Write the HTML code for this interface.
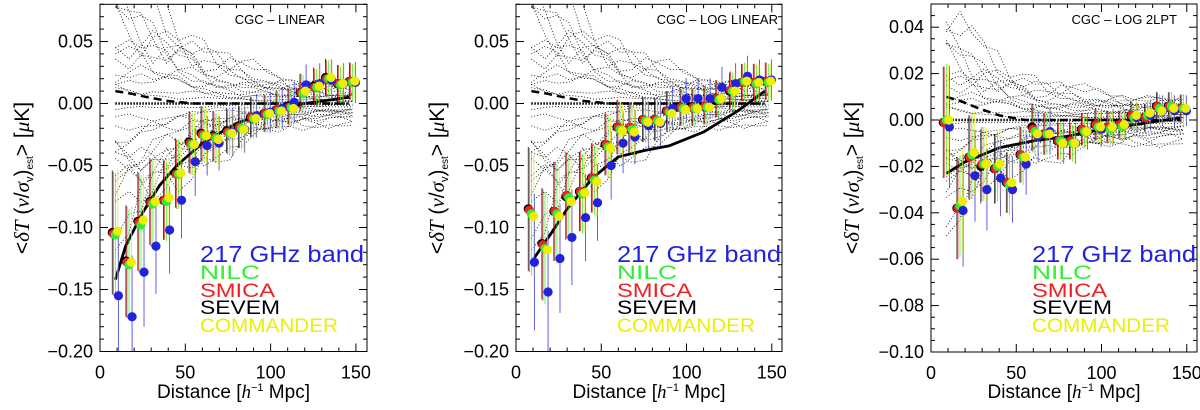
<!DOCTYPE html>
<html><head><meta charset="utf-8">
<style>
html,body{margin:0;padding:0;background:#fff;}
svg{display:block;font-family:"Liberation Sans",sans-serif;}
</style></head>
<body>
<svg id="chart" width="1200" height="410" viewBox="0 0 1200 410" xmlns="http://www.w3.org/2000/svg"></svg>
<script>
// ---- data ----
const binsX = [9,17,24,31,39,46,54,61,68,76,83,90,98,105,112,119,127,134,141,148];
// Panel 1: CGC - LINEAR
const p1Sevem = [-0.104,-0.127,-0.095,-0.079,-0.078,-0.056,-0.031,-0.024,-0.026,-0.022,-0.019,-0.011,-0.008,-0.005,-0.002,0.009,0.014,0.021,0.016,0.018];
const p1Smica = [-0.105,-0.128,-0.096,-0.080,-0.078,-0.057,-0.032,-0.025,-0.027,-0.023,-0.019,-0.011,-0.008,-0.005,-0.003,0.009,0.013,0.020,0.016,0.018];
const p1Nilc  = [-0.106,-0.130,-0.098,-0.081,-0.079,-0.057,-0.033,-0.026,-0.028,-0.024,-0.020,-0.012,-0.009,-0.006,-0.003,0.008,0.013,0.020,0.015,0.017];
const p1Comm  = [-0.103,-0.128,-0.094,-0.079,-0.076,-0.056,-0.033,-0.026,-0.029,-0.024,-0.021,-0.012,-0.008,-0.006,-0.004,0.010,0.014,0.021,0.016,0.018];
const p1Band  = [-0.155,-0.172,-0.136,-0.115,-0.102,-0.078,-0.047,-0.034,-0.032,-0.023,-0.021,-0.010,-0.007,-0.004,0.001,0.015,0.016,0.019,0.016,0.017];
const p1Err   = [0.05,0.045,0.04,0.035,0.032,0.028,0.025,0.022,0.02,0.018,0.017,0.016,0.015,0.015,0.015,0.015,0.015,0.015,0.015,0.015];
const p1TheoryX = [9,15,25,35,45,60,80,100,120,146];
const p1TheoryY = [-0.142,-0.115,-0.088,-0.066,-0.050,-0.032,-0.016,-0.006,0.000,0.005];
const p1Sigma = [0.09,0.085,0.08,0.072,0.065,0.058,0.05,0.043,0.037,0.032,0.028,0.025,0.022,0.02,0.018,0.017,0.016,0.015,0.014,0.014];
// Panel 2: CGC - LOG LINEAR
const p2Sevem = [-0.085,-0.113,-0.087,-0.075,-0.071,-0.060,-0.033,-0.019,-0.020,-0.013,-0.013,-0.006,-0.003,-0.003,-0.002,0.004,0.010,0.017,0.017,0.018];
const p2Smica = [-0.086,-0.114,-0.087,-0.074,-0.071,-0.060,-0.033,-0.019,-0.019,-0.013,-0.013,-0.006,-0.003,-0.003,-0.002,0.004,0.011,0.017,0.017,0.018];
const p2Nilc  = [-0.089,-0.117,-0.089,-0.076,-0.073,-0.062,-0.035,-0.021,-0.021,-0.014,-0.014,-0.007,-0.004,-0.004,-0.003,0.003,0.010,0.018,0.016,0.017];
const p2Comm  = [-0.091,-0.118,-0.091,-0.079,-0.072,-0.063,-0.036,-0.022,-0.023,-0.015,-0.015,-0.008,-0.005,-0.004,-0.003,0.004,0.010,0.018,0.017,0.018];
const p2Band  = [-0.128,-0.152,-0.125,-0.108,-0.092,-0.080,-0.050,-0.032,-0.027,-0.018,-0.016,-0.004,0.004,0.004,0.004,0.013,0.016,0.022,0.019,0.019];
const p2Err   = [0.05,0.045,0.04,0.035,0.032,0.028,0.025,0.022,0.02,0.018,0.017,0.016,0.015,0.015,0.015,0.015,0.015,0.015,0.015,0.015];
const p2TheoryX = [9,20,30,45,60,75,90,110,130,146];
const p2TheoryY = [-0.128,-0.106,-0.085,-0.060,-0.043,-0.038,-0.034,-0.023,-0.006,0.010];
const p2Sigma = [0.09,0.085,0.08,0.072,0.065,0.058,0.05,0.043,0.037,0.032,0.028,0.025,0.022,0.02,0.018,0.017,0.016,0.015,0.014,0.014];
// Panel 3: CGC - LOG 2LPT
const p3Sevem = [-0.001,-0.038,-0.016,-0.020,-0.021,-0.027,-0.015,-0.003,-0.006,-0.009,-0.009,-0.004,-0.002,-0.003,-0.002,0.002,0.001,0.006,0.006,0.005];
const p3Smica = [-0.001,-0.038,-0.016,-0.019,-0.021,-0.027,-0.015,-0.004,-0.006,-0.009,-0.009,-0.004,-0.002,-0.003,-0.002,0.002,0.001,0.006,0.006,0.005];
const p3Nilc  = [0.000,-0.037,-0.015,-0.019,-0.020,-0.028,-0.016,-0.005,-0.006,-0.009,-0.010,-0.005,-0.003,-0.004,-0.003,0.001,0.002,0.005,0.006,0.005];
const p3Comm  = [0.000,-0.035,-0.014,-0.019,-0.019,-0.027,-0.016,-0.006,-0.006,-0.010,-0.010,-0.005,-0.003,-0.003,-0.002,0.002,0.003,0.004,0.005,0.005];
const p3Band  = [-0.003,-0.039,-0.024,-0.030,-0.025,-0.030,-0.019,-0.007,-0.005,-0.010,-0.010,-0.005,-0.004,-0.003,-0.002,0.001,0.002,0.004,0.004,0.004];
const p3Err   = [0.024,0.022,0.018,0.016,0.015,0.013,0.012,0.01,0.009,0.008,0.008,0.007,0.007,0.007,0.006,0.006,0.006,0.006,0.006,0.006];
const p3TheoryX = [9,20,40,60,80,100,120,146];
const p3TheoryY = [-0.023,-0.018,-0.012,-0.009,-0.007,-0.004,-0.002,0.001];
const p3Sigma = [0.038,0.035,0.031,0.027,0.024,0.021,0.018,0.016,0.014,0.013,0.012,0.011,0.011,0.01,0.01,0.009,0.009,0.009,0.008,0.008];
const simMult = [1.0,-0.95,0.85,-0.8,0.7,-0.65,0.55,-0.5,0.4,-0.35,0.25,-0.2,0.1,-0.05,0.6,-0.75,0.9,-0.9,0.3,-0.45,0.8,-0.6,0.5,-0.3,0.15,-0.15,0.95,-1.0,0.35,-0.55];
const dashY = [0.010,0.008,0.005,0.002,0.0,0.0,0.0,0.0];
const dashX = [9,18,28,40,55,80,110,146];

const SVGNS="http://www.w3.org/2000/svg";
const svg=document.getElementById('chart');
function mk(tag,attrs,parent){const e=document.createElementNS(SVGNS,tag);for(const k in attrs)e.setAttribute(k,attrs[k]);(parent||svg).appendChild(e);return e;}

const panels=[
 {name:'linear',title:'CGC – LINEAR',titleX:325,x0:100,x1:367,xmax:156.5,y0v:103.5,yscale:1240,ymin:-0.2,ymax:0.08,ticks:[-0.2,-0.15,-0.1,-0.05,0,0.05],minor:0.01,dec:2,
  sev:p1Sevem,smi:p1Smica,nil:p1Nilc,com:p1Comm,band:p1Band,err:p1Err,tx:p1TheoryX,ty:p1TheoryY,sig:p1Sigma,ytitleX:22,legX:200},
 {name:'log-linear',title:'CGC – LOG LINEAR',titleX:778,x0:516,x1:782,xmax:156,y0v:103.5,yscale:1240,ymin:-0.2,ymax:0.08,ticks:[-0.2,-0.15,-0.1,-0.05,0,0.05],minor:0.01,dec:2,
  sev:p2Sevem,smi:p2Smica,nil:p2Nilc,com:p2Comm,band:p2Band,err:p2Err,tx:p2TheoryX,ty:p2TheoryY,sig:p2Sigma,ytitleX:437,legX:617},
 {name:'log-2lpt',title:'CGC – LOG 2LPT',titleX:1177,x0:931,x1:1197,xmax:156,y0v:120,yscale:2320,ymin:-0.1,ymax:0.05,ticks:[-0.1,-0.08,-0.06,-0.04,-0.02,0,0.02,0.04],minor:0.005,dec:2,
  sev:p3Sevem,smi:p3Smica,nil:p3Nilc,com:p3Comm,band:p3Band,err:p3Err,tx:p3TheoryX,ty:p3TheoryY,sig:p3Sigma,ytitleX:852,legX:1032}
];
const COL={blue:'#2222dd',green:'#33ee33',red:'#ee2222',black:'#000',yellow:'#eeee00'};

panels.forEach(p=>{
 const g=mk('g',{});
 
 
 const X=v=>p.x0+(v/p.xmax)*(p.x1-p.x0);
 const Y=v=>p.y0v-v*p.yscale;
 const top=Y(p.ymax), bot=Y(p.ymin);
 const clipId='clip-'+p.name;
 const cp=mk('clipPath',{id:clipId},g); mk('rect',{x:p.x0,y:top,width:p.x1-p.x0,height:bot-top},cp);
 const plot=mk('g',{'clip-path':'url(#'+clipId+')'},g);
 // simulations
 simMult.forEach((m,k)=>{
  let d='';
  binsX.forEach((bx,i)=>{const w=1+0.3*Math.sin(i*0.7+k*1.7)+0.15*Math.sin(i*1.9+k*0.6);d+=(i?'L':'M')+X(bx).toFixed(1)+','+Y(p.sig[i]*m*w).toFixed(1);});
  const s=mk('path',{d:d,fill:'none',stroke:'#000','stroke-width':0.8,'stroke-dasharray':'1,2'},plot);
  
  
 });
 // zero dotted + dashed thick
 const z=mk('line',{x1:X(9),x2:X(146),y1:Y(0),y2:Y(0),stroke:'#000','stroke-width':2.5,'stroke-dasharray':'1.5,1.5'},plot);
 
 
 let dd='';dashX.forEach((x,i)=>{dd+=(i?'L':'M')+X(x)+','+Y(dashY[i]);});
 const dl=mk('path',{d:dd,fill:'none',stroke:'#000','stroke-width':2.5,'stroke-dasharray':'8,5'},plot);
 
 
 // theory
 let td='';p.tx.forEach((x,i)=>{td+=(i?'L':'M')+X(x).toFixed(1)+','+Y(p.ty[i]).toFixed(1);});
 const th=mk('path',{d:td,fill:'none',stroke:'#000','stroke-width':2.8,'stroke-linejoin':'round'},plot);
 
 
 // series
 const series=[
  {vals:p.sev,c:COL.black,dx:-1.8,n:'sevem'},
  {vals:p.smi,c:COL.red,dx:-1.2,n:'smica'},
  {vals:p.nil,c:COL.green,dx:0,n:'nilc'},
  {vals:p.band,c:COL.blue,dx:1.8,n:'217ghz'},
  {vals:p.com,c:COL.yellow,dx:1.4,n:'commander'}];
 series.forEach(s=>{binsX.forEach((bx,i)=>{
  const e=p.err[i]*(s.n==='217ghz'?1.1:1);
  const l=mk('line',{x1:X(bx+s.dx),x2:X(bx+s.dx),y1:Y(s.vals[i]-e),y2:Y(s.vals[i]+e),stroke:s.c,'stroke-width':0.9,'stroke-opacity':0.8},plot);
  
  
 });});
 series.forEach(s=>{binsX.forEach((bx,i)=>{
  const c=mk('circle',{cx:X(bx+s.dx),cy:Y(s.vals[i]),r:4.6,fill:s.c},plot);
  
  
 });});
 // frame
 const fr=mk('rect',{x:p.x0,y:top,width:p.x1-p.x0,height:bot-top,fill:'none',stroke:'#000','stroke-width':1},g);
 
 
 // x ticks
 for(let v=0;v<=p.xmax;v+=10){
  const maj=v%50===0, L=maj?8:4;
  mk('line',{x1:X(v),x2:X(v),y1:bot,y2:bot-L,stroke:'#000'},g);
  mk('line',{x1:X(v),x2:X(v),y1:top,y2:top+L,stroke:'#000'},g);
  if(maj){const t=mk('text',{x:X(v),y:bot+27,'font-size':18,'text-anchor':'middle'},g);t.textContent=v;
   }
 }
 // y ticks
 const nmin=Math.round(p.ymin/p.minor), nmax=Math.floor(p.ymax/p.minor+1e-6);
 for(let n=nmin;n<=nmax;n++){
  const v=n*p.minor; const maj=p.ticks.some(t=>Math.abs(t-v)<1e-9); const L=maj?8:4;
  mk('line',{x1:p.x0,x2:p.x0+L,y1:Y(v),y2:Y(v),stroke:'#000'},g);
  mk('line',{x1:p.x1,x2:p.x1-L,y1:Y(v),y2:Y(v),stroke:'#000'},g);
 }
 p.ticks.forEach(v=>{
  const t=mk('text',{x:p.x0-7,y:Y(v)+6,'font-size':18,'text-anchor':'end'},g);
  t.textContent=(v<0?'−':'')+Math.abs(v).toFixed(p.dec);
  
 });
 // titles
 const tt=mk('text',{x:p.titleX,y:24,'font-size':13,'text-anchor':'end'},g);tt.textContent=p.title;
 
 const xt=mk('text',{x:(p.x0+p.x1)/2,y:398,'font-size':19,'text-anchor':'middle'},g);
 xt.innerHTML='Distance [<tspan font-style="italic" font-family="Liberation Serif">h</tspan><tspan dy="-7" font-size="11">−1</tspan><tspan dy="7"> Mpc]</tspan>';
 
 const yt=mk('text',{x:0,y:0,'font-size':21,'text-anchor':'middle',transform:'translate('+(p.ytitleX+7)+',178) rotate(-90)'},g);
 yt.innerHTML='&lt;<tspan font-style="italic" font-family="Liberation Serif">δT</tspan> (<tspan font-style="italic" font-family="Liberation Serif">v</tspan>/<tspan font-style="italic" font-family="Liberation Serif">σ</tspan><tspan dy="4" font-size="11">v</tspan><tspan dy="-4">)</tspan><tspan dy="4" font-size="10">est</tspan><tspan dy="-4">&gt; [</tspan><tspan font-style="italic" font-family="Liberation Serif">μ</tspan>K]';
 
 // legend
 const leg=[['217 GHz band',COL.blue,262,23,164],['NILC',COL.green,279,19,60],['SMICA',COL.red,297,19,75],['SEVEM',COL.black,314,19,80],['COMMANDER',COL.yellow,332,19,138]];
 leg.forEach(l=>{
  const t=mk('text',{x:p.legX,y:l[2],'font-size':l[3],fill:l[1],textLength:l[4],lengthAdjust:'spacingAndGlyphs'},g);
  t.textContent=l[0];
  
 });
});
</script>
</body></html>
